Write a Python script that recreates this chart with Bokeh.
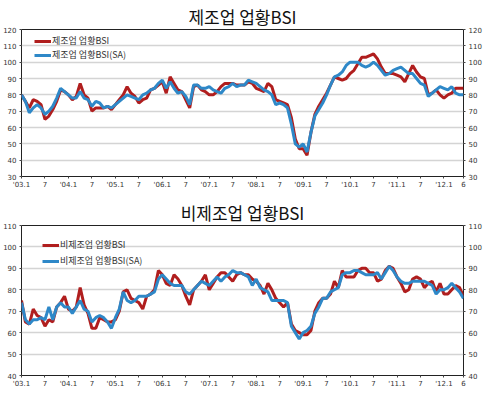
from bokeh.plotting import figure
from bokeh.models import Range1d, LinearAxis, FixedTicker, Legend
from bokeh.layouts import column
from bokeh.embed import file_html
from bokeh.resources import INLINE

# monthly data, 2003.1 - 2012.6
mfg_bsi = [
    80, 76, 72, 77, 76, 74, 65, 67, 71, 76, 83, 82,
    80, 77, 79, 87, 80, 78, 70, 72, 72, 72, 73, 71,
    74, 77, 80, 85, 81, 79, 75, 77, 78, 83, 84, 86,
    88, 81, 91, 87, 83, 82, 77, 72, 85, 86, 83, 82,
    80, 80, 82, 85, 87, 87, 87, 86, 86, 86, 88, 87,
    84, 83, 82, 87, 85, 77, 76, 75, 74, 66, 53, 47,
    47, 43, 57, 68, 73, 77, 81, 86, 91, 90, 89, 90,
    93, 95, 99, 103, 103, 104, 105, 102, 97, 93, 93, 93,
    92, 91, 88, 93, 98, 94, 91, 90, 80, 81, 83, 80,
    78, 80, 81, 84, 84, 84,
]
mfg_bsi_sa = [
    80, 76, 69, 72, 74, 72, 68, 70, 73, 78, 84, 82,
    80, 78, 78, 82, 78, 77, 73, 76, 75, 72, 73, 72,
    74, 76, 78, 80, 79, 78, 77, 80, 81, 83, 84, 87,
    89, 84, 88, 84, 81, 82, 79, 74, 86, 86, 84, 84,
    85, 83, 82, 81, 84, 85, 87, 85, 86, 86, 89, 88,
    87, 85, 83, 82, 80, 74, 75, 74, 72, 62, 50, 48,
    50, 45, 57, 67, 71, 75, 80, 86, 91, 92, 94, 98,
    100, 100, 100, 98, 97, 98, 100, 98, 95, 92, 93, 95,
    96, 97, 95, 93, 93, 90, 87, 86, 79, 81, 83, 85,
    84, 83, 85, 81, 80, 80,
]
nonmfg_bsi = [
    75, 65, 64, 71, 68, 67, 63, 66, 65, 72, 74, 77,
    71, 70, 72, 81, 73, 69, 62, 62, 67, 66, 65, 65,
    66, 70, 79, 80, 76, 75, 74, 71, 77, 78, 80, 89,
    87, 83, 82, 87, 85, 82, 77, 73, 80, 82, 84, 87,
    80, 83, 86, 88, 88, 86, 84, 87, 88, 87, 87, 85,
    84, 82, 78, 83, 80, 76, 74, 72, 74, 64, 61, 60,
    59, 59, 61, 70, 74, 76, 76, 78, 84, 81, 89, 86,
    86, 86, 89, 90, 90, 88, 88, 84, 85, 89, 91, 90,
    86, 83, 79, 80, 85, 86, 85, 81, 83, 84, 79, 83,
    78, 78, 80, 82, 81, 77,
]
nonmfg_bsi_sa = [
    74, 66, 64, 66, 66, 67, 66, 72, 66, 72, 74, 72,
    72, 69, 72, 75, 71, 70, 65, 67, 68, 67, 65, 62,
    67, 71, 79, 75, 74, 75, 77, 77, 77, 78, 79, 85,
    87, 85, 83, 82, 82, 82, 79, 78, 80, 82, 84, 83,
    82, 84, 86, 84, 86, 87, 89, 88, 88, 87, 86, 82,
    85, 81, 80, 79, 75, 75, 75, 75, 74, 63, 60, 57,
    60, 61, 63, 69, 72, 76, 76, 79, 80, 81, 87, 88,
    88, 89, 89, 88, 87, 87, 87, 88, 85, 88, 91, 89,
    86, 84, 83, 83, 84, 84, 84, 84, 83, 82, 78, 80,
    80, 81, 83, 81, 79, 76,
]
months = list(range(len(mfg_bsi)))
tick_pos = [0, 6, 12, 18, 24, 30, 36, 42, 48, 54, 60, 66, 72, 78, 84, 90, 96, 102, 108, 113]
tick_labels = ["'03.1", "7", "'04.1", "7", "'05.1", "7", "'06.1", "7", "'07.1", "7",
               "'08.1", "7", "'09.1", "7", "'10.1", "7", "'11.1", "7", "'12.1", "6"]

RED = "#B01E1E"
BLUE = "#2E88C8"
FONT = "Noto Sans CJK KR"


def make_fig(title, raw, sa, lab_raw, lab_sa, ymin, ymax, height, bt, bb,
             title_off, legend_loc, leg_spacing):
    p = figure(width=484, height=height, output_backend="svg", toolbar_location=None,
               x_range=Range1d(0, 113), y_range=Range1d(ymin, ymax),
               min_border_left=19, min_border_right=16, min_border_top=bt, min_border_bottom=bb)
    p.title.text = title
    p.title.align = "center"
    p.title.offset = title_off
    p.title.text_font = FONT
    p.title.text_font_size = "17px"
    p.title.text_font_style = "normal"
    p.title.text_color = "#111111"
    p.title.standoff = 2

    p.outline_line_color = "#222222"
    p.outline_line_width = 1
    p.xgrid.visible = False
    p.ygrid.grid_line_color = "#d4d4d4"
    p.ygrid.grid_line_width = 1.5
    p.ygrid.ticker = FixedTicker(ticks=list(range(ymin, ymax + 1, 10)))

    r1 = p.line(months, raw, line_color=RED, line_width=3)
    r2 = p.line(months, sa, line_color=BLUE, line_width=3)

    right = LinearAxis()
    p.add_layout(right, "right")
    for ax in p.yaxis:
        ax.ticker = FixedTicker(ticks=list(range(ymin, ymax + 1, 10)))
        ax.major_label_text_font = "DejaVu Sans"
        ax.major_label_text_font_size = "7px"
        ax.major_label_text_color = "#333333"
        ax.axis_line_color = None
        ax.major_tick_line_color = "#444444"
        ax.major_tick_out = 2
        ax.major_tick_in = 0
        ax.minor_tick_line_color = None
        ax.major_label_standoff = 3
        ax.axis_label_standoff = 0
    p.xaxis.ticker = FixedTicker(ticks=tick_pos)
    p.xaxis.major_label_overrides = {t: l for t, l in zip(tick_pos, tick_labels)}
    p.xaxis.major_label_text_font = "DejaVu Sans"
    p.xaxis.major_label_text_font_size = "7px"
    p.xaxis.major_label_text_color = "#333333"
    p.xaxis.axis_line_color = None
    p.xaxis.major_tick_line_color = "#444444"
    p.xaxis.major_tick_out = 2
    p.xaxis.major_tick_in = 0
    p.xaxis.minor_tick_line_color = None
    p.xaxis.major_label_standoff = 2
    p.xaxis.axis_label_standoff = 0

    leg = Legend(items=[(lab_raw, [r1]), (lab_sa, [r2])], location=legend_loc)
    leg.background_fill_alpha = 0
    leg.border_line_color = None
    leg.padding = 0
    leg.margin = 0
    leg.spacing = leg_spacing
    leg.glyph_width = 17
    leg.glyph_height = 10
    leg.label_height = 10
    leg.label_standoff = 1
    leg.label_text_font = FONT
    leg.label_text_font_size = "9px"
    leg.label_text_color = "#333333"
    p.add_layout(leg, "center")
    return p


p1 = make_fig("제조업 업황BSI", mfg_bsi, mfg_bsi_sa, "제조업 업황BSI", "제조업 업황BSI(SA)",
              30, 120, 194, 25, 18, -18, (13, 115), 1)
p2 = make_fig("비제조업 업황BSI", nonmfg_bsi, nonmfg_bsi_sa, "비제조업 업황BSI", "비제조업 업황BSI(SA)",
              40, 110, 196, 31, 13, -2, (21, 108), 3)

p = column(p1, p2, spacing=0)
open("out.html", "w").write(file_html(p, INLINE))
